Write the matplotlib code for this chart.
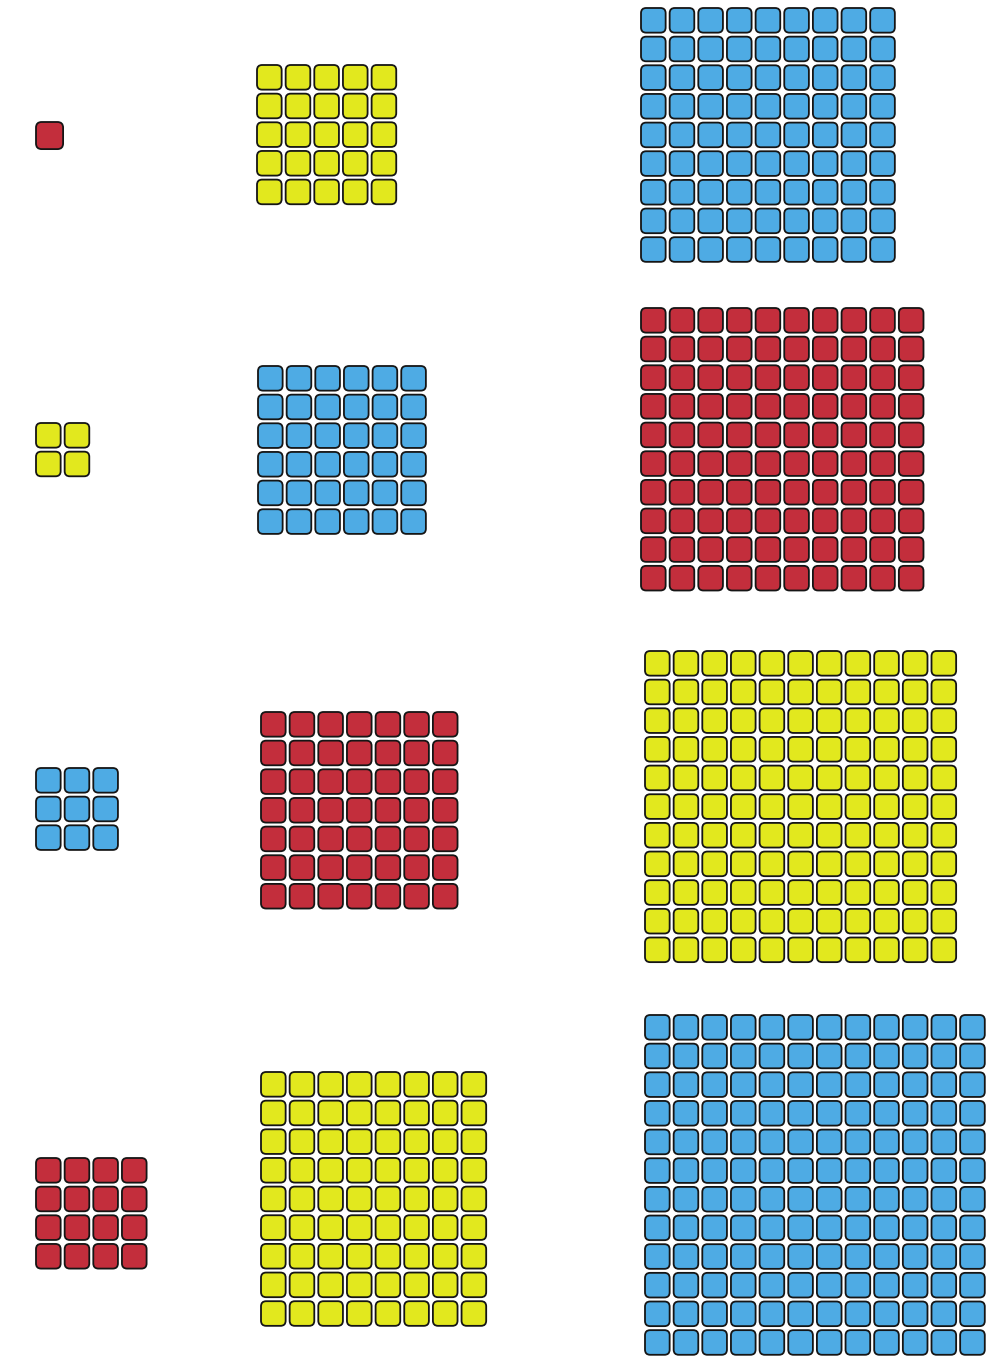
import matplotlib
matplotlib.use('Agg')
import matplotlib.pyplot as plt
from matplotlib.patches import FancyBboxPatch

# grid sizes for each panel (columns wide x rows tall)
n_cols = [1, 2, 3, 4, 5, 6, 7, 8, 9, 10, 11, 12]
n_rows = [1, 2, 3, 4, 5, 6, 7, 9, 9, 10, 11, 12]
fill = ['red', 'yellow', 'blue', 'red', 'yellow', 'blue',
        'red', 'yellow', 'blue', 'red', 'yellow', 'blue']

palette = {'red': '#c32e3c', 'yellow': '#e2e81e', 'blue': '#4eabe4'}

# top-left corner of each panel in pixels (layout only)
panel_x = [36, 36, 36, 36, 257, 258, 261, 261, 641, 641, 645, 645]
panel_y = [122, 423, 768, 1158, 65, 366, 712, 1072, 8, 308, 651, 1015]
panel_scale = [1.1, 1, 1, 1, 1, 1, 1, 1, 1, 1, 1, 1]

W, H = 988, 1358
pitch = 28.65     # px per cell
gap = 0.14        # fraction of pitch left empty between cells
radius = 0.18

fig = plt.figure(figsize=(W / 100, H / 100), dpi=100)

for nc, nr, f, px, py, s in zip(n_cols, n_rows, fill, panel_x, panel_y, panel_scale):
    p = pitch * s
    x0 = px - gap * p / 2
    y0 = py - gap * p / 2
    w = nc * p
    h = nr * p
    ax = fig.add_axes([x0 / W, 1 - (y0 + h) / H, w / W, h / H])
    ax.set_xlim(0, nc)
    ax.set_ylim(nr, 0)
    ax.axis('off')
    for r in range(nr):
        for c in range(nc):
            box = FancyBboxPatch((c + gap / 2, r + gap / 2), 1 - gap, 1 - gap,
                                 boxstyle=f"round,pad=0,rounding_size={radius}",
                                 facecolor=palette[f], edgecolor='#151515',
                                 linewidth=1.3, clip_on=False)
            ax.add_patch(box)

fig.savefig('out.png', dpi=100)
